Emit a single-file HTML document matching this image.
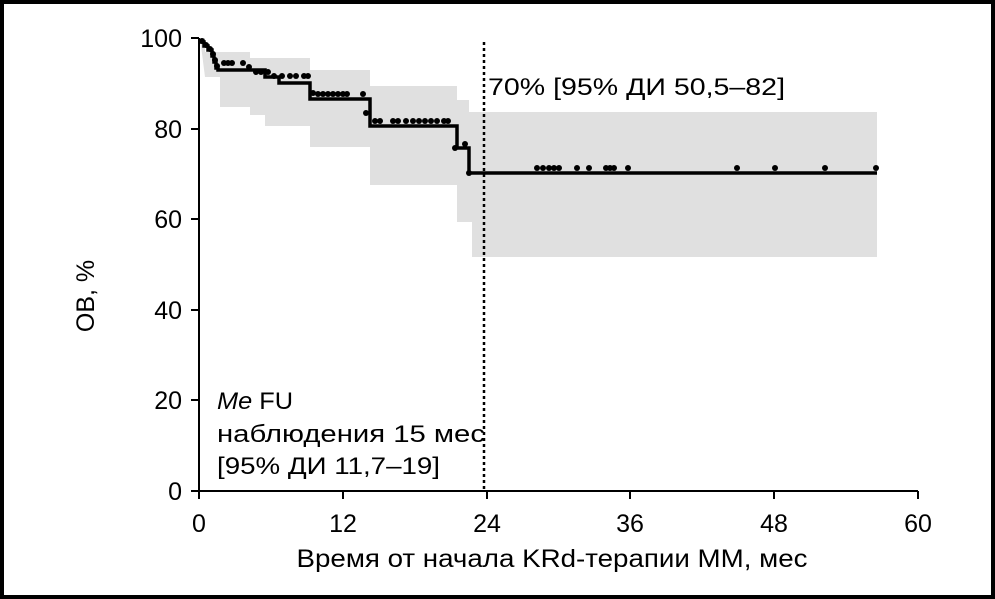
<!DOCTYPE html>
<html><head><meta charset="utf-8"><style>
html,body{margin:0;padding:0;background:#fff}
svg{display:block}
text{font-family:"Liberation Sans","DejaVu Sans",sans-serif;fill:#000}
</style></head><body>
<svg width="995" height="599" viewBox="0 0 995 599">
<rect x="2" y="2" width="991" height="595" fill="#fff" stroke="#000" stroke-width="4"/>
<path d="M200,38 L205,38 L205,52 L250,52 L250,58 L310,58 L310,70 L370,70 L370,86 L457,86 L457,100 L469,100 L469,112 L877,112 L877,257 L472,257 L472,222 L457,222 L457,185 L370,185 L370,147 L310,147 L310,126 L265,126 L265,115 L250,115 L250,107 L220,107 L220,77 L205,77 Z" fill="#e0e0e0"/>
<path d="M200,42 L204,42 L204,46 L208,46 L208,50 L212,50 L212,56 L214,56 L214,62 L216,62 L216,68 L218,68 L218,70 L265,70 L265,77 L279,77 L279,83 L310,83 L310,99 L370,99 L370,126 L457,126 L457,148 L469,148 L469,173 L877,173" fill="none" stroke="#000" stroke-width="3.5"/>
<g fill="#000">
<circle cx="202" cy="41" r="3"/><circle cx="206" cy="45" r="3"/><circle cx="210" cy="49" r="3"/><circle cx="213" cy="54" r="3"/><circle cx="215" cy="60" r="3"/><circle cx="217" cy="66" r="3"/>
<circle cx="224" cy="63" r="3"/><circle cx="228" cy="63" r="3"/><circle cx="232" cy="63" r="3"/><circle cx="243" cy="63" r="3"/><circle cx="249" cy="67" r="3"/><circle cx="256" cy="72" r="3"/><circle cx="261" cy="72" r="3"/>
<circle cx="268" cy="72" r="3"/><circle cx="274" cy="76" r="3"/><circle cx="282" cy="76" r="3"/><circle cx="290" cy="76" r="3"/><circle cx="296" cy="76" r="3"/><circle cx="304" cy="76" r="3"/><circle cx="308" cy="76" r="3"/>
<circle cx="313" cy="93" r="3"/><circle cx="318" cy="94" r="3"/><circle cx="323" cy="94" r="3"/><circle cx="328" cy="94" r="3"/><circle cx="333" cy="94" r="3"/><circle cx="338" cy="94" r="3"/><circle cx="343" cy="94" r="3"/><circle cx="347" cy="94" r="3"/><circle cx="363" cy="94" r="3"/>
<circle cx="366" cy="113" r="3"/><circle cx="375" cy="121" r="3"/><circle cx="380" cy="121" r="3"/><circle cx="393" cy="121" r="3"/><circle cx="398" cy="121" r="3"/><circle cx="406" cy="121" r="3"/><circle cx="413" cy="121" r="3"/><circle cx="419" cy="121" r="3"/><circle cx="425" cy="121" r="3"/><circle cx="431" cy="121" r="3"/><circle cx="437" cy="121" r="3"/><circle cx="444" cy="121" r="3"/><circle cx="448" cy="121" r="3"/>
<circle cx="455" cy="148" r="3"/><circle cx="465" cy="144" r="3"/><circle cx="469" cy="173" r="3"/>
<circle cx="537" cy="168" r="3"/><circle cx="543" cy="168" r="3"/><circle cx="549" cy="168" r="3"/><circle cx="554" cy="168" r="3"/><circle cx="559" cy="168" r="3"/><circle cx="577" cy="168" r="3"/><circle cx="589" cy="168" r="3"/><circle cx="606" cy="168" r="3"/><circle cx="610" cy="168" r="3"/><circle cx="614" cy="168" r="3"/><circle cx="628" cy="168" r="3"/><circle cx="737" cy="168" r="3"/><circle cx="775" cy="168" r="3"/><circle cx="825" cy="168" r="3"/><circle cx="876" cy="168" r="3"/>
</g>
<line x1="484" y1="42" x2="484" y2="491" stroke="#000" stroke-width="2.5" stroke-dasharray="3,3"/>
<g stroke="#000" stroke-width="2" fill="none">
<path d="M199,38 L199,491 L918,491"/>
<path d="M191,38H199M191,129H199M191,219H199M191,310H199M191,400H199M191,491H199"/>
<path d="M199,491V499M343,491V499M487,491V499M630,491V499M774,491V499M918,491V499"/>
</g>
<g font-size="25" text-anchor="end">
<text x="182" y="47">100</text><text x="182" y="138">80</text><text x="182" y="228">60</text><text x="182" y="319">40</text><text x="182" y="409">20</text><text x="182" y="500">0</text>
</g>
<g font-size="25" text-anchor="middle">
<text x="199" y="532">0</text><text x="343" y="532">12</text><text x="487" y="532">24</text><text x="630" y="532">36</text><text x="774" y="532">48</text><text x="918" y="532">60</text>
<text x="552" y="567" textLength="511" lengthAdjust="spacingAndGlyphs">Время от начала KRd-терапии ММ, мес</text>
<text transform="translate(94,296) rotate(-90)">ОВ, %</text>
</g>
<g font-size="24">
<text x="488" y="95" textLength="297" lengthAdjust="spacingAndGlyphs">70% [95% ДИ 50,5–82]</text>
<text x="217" y="409" textLength="76" lengthAdjust="spacingAndGlyphs"><tspan font-style="italic">Me</tspan> FU</text>
<text x="217" y="442" textLength="268" lengthAdjust="spacingAndGlyphs">наблюдения 15 мес</text>
<text x="217" y="474" textLength="223" lengthAdjust="spacingAndGlyphs">[95% ДИ 11,7–19]</text>
</g>
</svg>
</body></html>
